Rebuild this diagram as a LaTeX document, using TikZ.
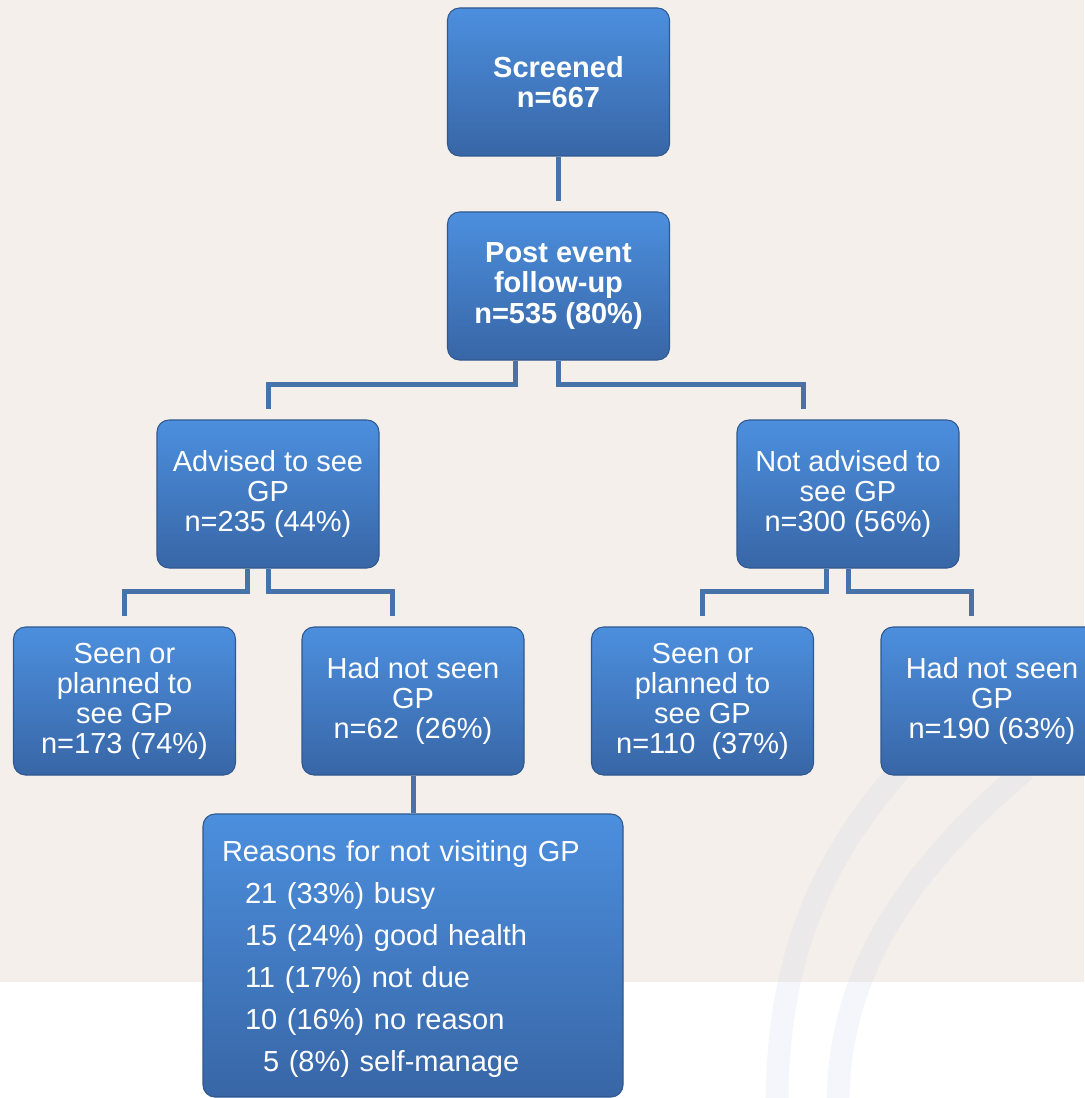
\documentclass[tikz,border=0pt]{standalone}
\usepackage{fontspec}
\setmainfont{Liberation Sans}
\usepackage{tikz}
\usetikzlibrary{calc}

\definecolor{cream}{RGB}{244,239,234}
\definecolor{boxtop}{RGB}{76,143,222}
\definecolor{boxbot}{RGB}{56,102,166}
\definecolor{boxrim}{RGB}{48,88,142}
\definecolor{linkblue}{RGB}{72,115,168}
\definecolor{arcblue}{RGB}{200,212,235}

\begin{document}
\begin{tikzpicture}[x=0.75pt, y=-0.75pt,
        flowbox/.style={draw=boxrim, line width=0.8pt, rounded corners=9pt, top color=boxtop, bottom color=boxbot, text=white, align=center, minimum width=166.5pt, minimum height=111pt, inner sep=2pt, font=\fontsize{21.75}{22.5}\selectfont},
        boldbox/.style={flowbox, font=\fontsize{21.75}{23}\selectfont\bfseries},
        flowline/.style={draw=linkblue, line width=3.75pt, line join=miter}]
        \useasboundingbox (0,0) rectangle (1084,1098);

        % Draw background
        \fill[white] (0,0) rectangle (1084,1098);
        \fill[cream] (0,0) rectangle (1084,982);
        \draw[arcblue, opacity=0.2, line width=17pt] (900,770) .. controls (820,860) and (778,960) .. (777,1100);
        \draw[arcblue, opacity=0.2, line width=17pt] (1025,770) .. controls (920,860) and (840,960) .. (838,1100);

        % Draw flow boxes
        \node[boldbox] (scr) at (558.5,82) {Screened\\n=667};
        \node[boldbox] (post) at (558.5,286) {Post event\\follow-up\\n=535 (80\%)};
        \node[flowbox] (adv) at (268,494) {Advised to see\\GP\\n=235 (44\%)};
        \node[flowbox] (nadv) at (848,494) {Not advised to\\see GP\\n=300 (56\%)};
        \node[flowbox] (seen1) at (124.5,701) {Seen or\\planned to\\see GP\\n=173 (74\%)};
        \node[flowbox] (notseen1) at (413,701) {Had not seen\\GP\\n=62\ \ (26\%)};
        \node[flowbox] (seen2) at (702.5,701) {Seen or\\planned to\\see GP\\n=110\ \ (37\%)};
        \node[flowbox] (notseen2) at (992,701) {Had not seen\\GP\\n=190 (63\%)};
        \node[flowbox, align=left, text width=286.5pt, inner xsep=14.25pt, minimum height=212.25pt, font=\fontsize{21.75}{31.5}\selectfont] (reasons) at (413,955.5) {\rule{0pt}{21.5pt}Reasons for not visiting GP\\
            \hspace*{17.25pt}21 (33\%) busy\\
            \hspace*{17.25pt}15 (24\%) good health\\
            \hspace*{17.25pt}11 (17\%) not due\\
            \hspace*{17.25pt}10 (16\%) no reason\\
            \hspace*{30.75pt}5 (8\%) self-manage};

        % Draw connectors
        \draw[flowline] (scr.south) -- ($(post.north)+(0,-10)$);
        \draw[flowline] ($(post.south)+(-43,0)$) |- ($(adv.north)+(0,-35)$) -- ($(adv.north)+(0,-10)$);
        \draw[flowline] (post.south) |- ($(nadv.north)+(-45,-35)$) -- ($(nadv.north)+(-45,-10)$);
        \draw[flowline] ($(adv.south)+(-21,0)$) |- ($(seen1.north)+(0,-35)$) -- ($(seen1.north)+(0,-10)$);
        \draw[flowline] (adv.south) |- ($(notseen1.north)+(-21,-35)$) -- ($(notseen1.north)+(-21,-10)$);
        \draw[flowline] ($(nadv.south)+(-22,0)$) |- ($(seen2.north)+(0,-35)$) -- ($(seen2.north)+(0,-10)$);
        \draw[flowline] (nadv.south) |- ($(notseen2.north)+(-21,-35)$) -- ($(notseen2.north)+(-21,-10)$);
        \draw[flowline] (notseen1.south) -- (reasons.north);
    \end{tikzpicture}
\end{document}
